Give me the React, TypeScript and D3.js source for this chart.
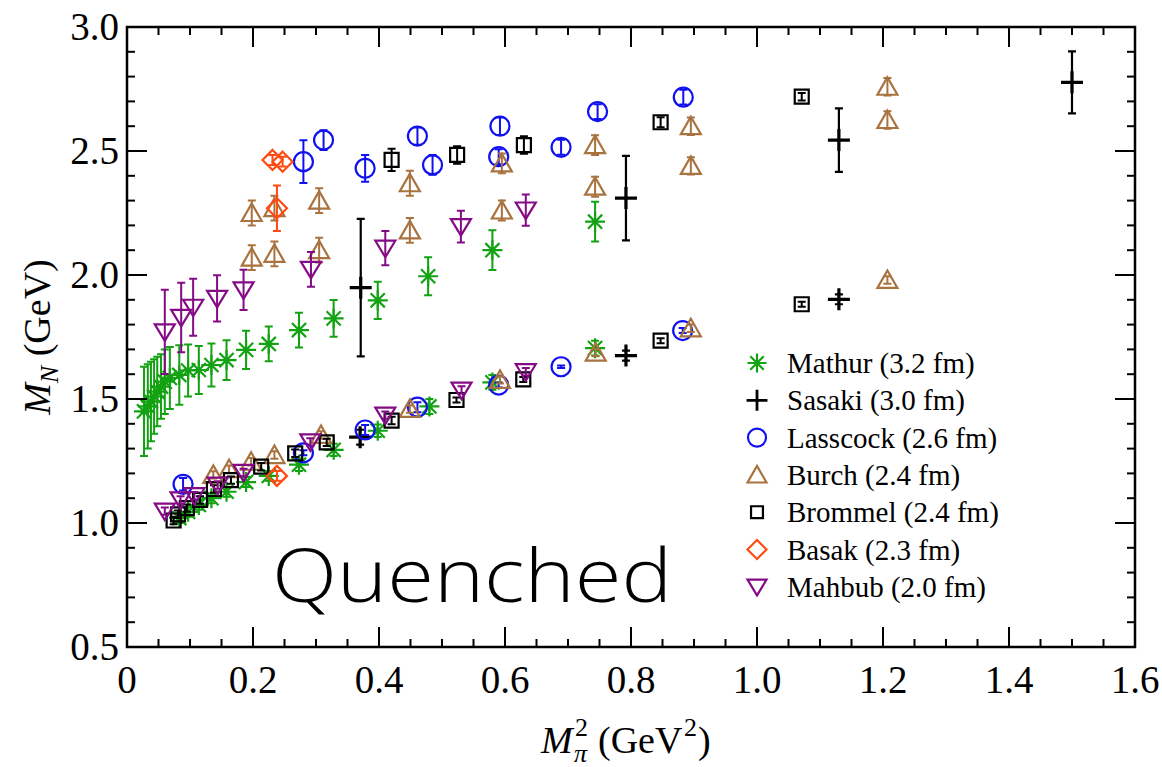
import React from "react";
import * as d3 from "d3";

// Each point: [M_pi^2 (GeV^2), M_N (GeV), error (GeV)]
const mathurExcited: [number, number, number][] = [
  [0.027, 1.45, 0.18], [0.033, 1.47, 0.17], [0.038, 1.49, 0.16], [0.043, 1.51, 0.15],
  [0.048, 1.53, 0.14], [0.054, 1.55, 0.13], [0.060, 1.57, 0.13], [0.068, 1.585, 0.125],
  [0.083, 1.597, 0.12], [0.097, 1.615, 0.105], [0.114, 1.617, 0.097], [0.134, 1.637, 0.087],
  [0.158, 1.657, 0.08], [0.189, 1.698, 0.077], [0.225, 1.722, 0.07], [0.273, 1.778, 0.07],
  [0.328, 1.825, 0.074], [0.398, 1.898, 0.075], [0.478, 1.995, 0.077], [0.58, 2.10, 0.08],
  [0.743, 2.215, 0.08],
];
const mathurNucleon: [number, number, number][] = [
  [0.083, 1.02, 0.02], [0.097, 1.045, 0.02], [0.114, 1.073, 0.02], [0.134, 1.10, 0.02],
  [0.158, 1.126, 0.02], [0.189, 1.165, 0.02], [0.225, 1.19, 0.02], [0.273, 1.235, 0.025],
  [0.328, 1.295, 0.025], [0.398, 1.372, 0.025], [0.48, 1.47, 0.03], [0.58, 1.567, 0.03],
  [0.743, 1.705, 0.03],
];
const sasakiExcited: [number, number, number][] = [
  [0.371, 1.949, 0.277], [0.792, 2.31, 0.17], [1.13, 2.544, 0.128], [1.5, 2.777, 0.125],
];
const sasakiNucleon: [number, number, number][] = [
  [0.37, 1.346, 0.03], [0.792, 1.675, 0.02], [1.13, 1.902, 0.02],
];
const lasscockExcited: [number, number, number][] = [
  [0.28, 2.457, 0.086], [0.312, 2.544, 0.04], [0.378, 2.43, 0.054], [0.461, 2.56, 0.035],
  [0.485, 2.444, 0.04], [0.592, 2.60, 0.035], [0.590, 2.477, 0.03], [0.689, 2.515, 0.03],
  [0.747, 2.659, 0.03], [0.883, 2.717, 0.03],
];
const lasscockNucleon: [number, number, number][] = [
  [0.089, 1.156, 0.025], [0.28, 1.283, 0.01], [0.378, 1.375, 0.02], [0.461, 1.467, 0.02],
  [0.59, 1.556, 0.01], [0.689, 1.63, 0.005], [0.882, 1.776, 0.01],
];
const burchExcited: [number, number, number][] = [
  [0.198, 2.07, 0.05], [0.198, 2.25, 0.05], [0.234, 2.085, 0.05], [0.234, 2.27, 0.05],
  [0.305, 2.10, 0.05], [0.305, 2.30, 0.05], [0.449, 2.18, 0.05], [0.449, 2.37, 0.05],
  [0.595, 2.26, 0.04], [0.595, 2.45, 0.04], [0.743, 2.356, 0.04], [0.743, 2.524, 0.04],
  [0.895, 2.44, 0.035], [0.895, 2.60, 0.035], [1.207, 2.625, 0.035], [1.207, 2.759, 0.035],
];
const burchNucleon: [number, number, number][] = [
  [0.137, 1.194, 0.015], [0.162, 1.217, 0.015], [0.197, 1.247, 0.015], [0.234, 1.274, 0.015],
  [0.308, 1.355, 0.015], [0.449, 1.46, 0.015], [0.592, 1.577, 0.015], [0.744, 1.687, 0.015],
  [0.895, 1.785, 0.015], [1.207, 1.98, 0.015],
];
const brommelExcited: [number, number, number][] = [
  [0.42, 2.464, 0.045], [0.524, 2.484, 0.035], [0.630, 2.524, 0.035], [0.847, 2.616, 0.02],
  [1.071, 2.719, 0.015],
];
const brommelNucleon: [number, number, number][] = [
  [0.074, 1.01, 0.015], [0.081, 1.035, 0.015], [0.095, 1.06, 0.015], [0.116, 1.093, 0.015],
  [0.138, 1.137, 0.015], [0.165, 1.173, 0.015], [0.213, 1.227, 0.015], [0.267, 1.281, 0.015],
  [0.317, 1.325, 0.015], [0.42, 1.413, 0.015], [0.523, 1.496, 0.01], [0.629, 1.579, 0.01],
  [0.847, 1.735, 0.01], [1.071, 1.882, 0.01],
];
const basakExcited: [number, number, number][] = [
  [0.231, 2.464, 0.02], [0.247, 2.457, 0.02], [0.238, 2.269, 0.092],
];
const basakNucleon: [number, number, number][] = [[0.238, 1.19, 0.02]];
const mahbubExcited: [number, number, number][] = [
  [0.060, 1.771, 0.17], [0.086, 1.829, 0.14], [0.105, 1.87, 0.115], [0.143, 1.906, 0.093],
  [0.185, 1.94, 0.081], [0.292, 2.023, 0.07], [0.41, 2.108, 0.069], [0.53, 2.195, 0.064],
  [0.633, 2.262, 0.063],
];
const mahbubNucleon: [number, number, number][] = [
  [0.060, 1.048, 0.015], [0.085, 1.093, 0.015], [0.107, 1.11, 0.015], [0.144, 1.153, 0.015],
  [0.185, 1.204, 0.015], [0.291, 1.327, 0.015], [0.41, 1.435, 0.015], [0.531, 1.536, 0.015],
  [0.633, 1.61, 0.015],
];

const legendLabels = [
  "Mathur (3.2 fm)", "Sasaki (3.0 fm)", "Lasscock (2.6 fm)", "Burch (2.4 fm)",
  "Brommel (2.4 fm)", "Basak (2.3 fm)", "Mahbub (2.0 fm)",
];
const xTickLabels = ["0", "0.2", "0.4", "0.6", "0.8", "1.0", "1.2", "1.4", "1.6"];
const yTickLabels = ["0.5", "1.0", "1.5", "2.0", "2.5", "3.0"];

type Shape = "asterisk" | "plus" | "circle" | "triUp" | "square" | "diamond" | "triDown";

const groups: { shape: Shape; color: string; sets: [number, number, number][][] }[] = [
  { shape: "asterisk", color: "#12a212", sets: [mathurExcited, mathurNucleon] },
  { shape: "plus", color: "#000000", sets: [sasakiExcited, sasakiNucleon] },
  { shape: "circle", color: "#1010f0", sets: [lasscockExcited, lasscockNucleon] },
  { shape: "triUp", color: "#a8733f", sets: [burchExcited, burchNucleon] },
  { shape: "square", color: "#000000", sets: [brommelExcited, brommelNucleon] },
  { shape: "diamond", color: "#ff4a10", sets: [basakExcited, basakNucleon] },
  { shape: "triDown", color: "#850a85", sets: [mahbubExcited, mahbubNucleon] },
];

const W = 1162;
const H = 767;
const left = 127, right = 1135, top = 27, bottom = 647;
const x = d3.scaleLinear().domain([0, 1.6]).range([left, right]);
const y = d3.scaleLinear().domain([0.5, 3.0]).range([bottom, top]);

const serif = "'Liberation Serif', 'Times New Roman', serif";

function markerPath(shape: Shape, cx: number, cy: number, s = 1): string {
  const p = d3.path();
  if (shape === "asterisk") {
    const r = 10 * s, d = r * Math.SQRT1_2;
    p.moveTo(cx - r, cy); p.lineTo(cx + r, cy);
    p.moveTo(cx, cy - r); p.lineTo(cx, cy + r);
    p.moveTo(cx - d, cy - d); p.lineTo(cx + d, cy + d);
    p.moveTo(cx - d, cy + d); p.lineTo(cx + d, cy - d);
  } else if (shape === "plus") {
    const r = 11 * s;
    p.moveTo(cx - r, cy); p.lineTo(cx + r, cy);
    p.moveTo(cx, cy - r); p.lineTo(cx, cy + r);
  } else if (shape === "circle") {
    const r = 9.5 * s;
    p.moveTo(cx + r, cy); p.arc(cx, cy, r, 0, Math.PI * 2);
  } else if (shape === "triUp") {
    p.moveTo(cx, cy - 9.5 * s); p.lineTo(cx + 10 * s, cy + 8 * s); p.lineTo(cx - 10 * s, cy + 8 * s); p.closePath();
  } else if (shape === "triDown") {
    p.moveTo(cx - 10 * s, cy - 7.5 * s); p.lineTo(cx + 10 * s, cy - 7.5 * s); p.lineTo(cx, cy + 9 * s); p.closePath();
  } else if (shape === "square") {
    const h = 7 * s;
    p.rect(cx - h, cy - h, 2 * h, 2 * h);
  } else if (shape === "diamond") {
    const h = 10 * s;
    p.moveTo(cx, cy - h); p.lineTo(cx + h, cy); p.lineTo(cx, cy + h); p.lineTo(cx - h, cy); p.closePath();
  }
  return p.toString();
}

function errorPath(cx: number, yv: number, e: number): string {
  const p = d3.path();
  const y1 = y(yv + e), y2 = y(yv - e);
  const c = 4;
  p.moveTo(cx, y1); p.lineTo(cx, y2);
  p.moveTo(cx - c, y1); p.lineTo(cx + c, y1);
  p.moveTo(cx - c, y2); p.lineTo(cx + c, y2);
  return p.toString();
}

export default function App() {
  const xMajor = d3.range(0, 1.6001, 0.2);
  const xMinor = d3.range(0, 1.6001, 0.05);
  const yMajor = d3.range(0.5, 3.0001, 0.5);
  const yMinor = d3.range(0.5, 3.0001, 0.1);

  const ticks: React.ReactNode[] = [];
  xMinor.forEach((v, i) => {
    const px = x(v);
    ticks.push(<line key={`xb${i}`} x1={px} x2={px} y1={bottom} y2={bottom - 8} />);
    ticks.push(<line key={`xt${i}`} x1={px} x2={px} y1={top} y2={top + 8} />);
  });
  xMajor.forEach((v, i) => {
    const px = x(v);
    ticks.push(<line key={`xB${i}`} x1={px} x2={px} y1={bottom} y2={bottom - 20} />);
    ticks.push(<line key={`xT${i}`} x1={px} x2={px} y1={top} y2={top + 20} />);
  });
  yMinor.forEach((v, i) => {
    const py = y(v);
    ticks.push(<line key={`yl${i}`} x1={left} x2={left + 8} y1={py} y2={py} />);
    ticks.push(<line key={`yr${i}`} x1={right} x2={right - 8} y1={py} y2={py} />);
  });
  yMajor.forEach((v, i) => {
    const py = y(v);
    ticks.push(<line key={`yL${i}`} x1={left} x2={left + 20} y1={py} y2={py} />);
    ticks.push(<line key={`yR${i}`} x1={right} x2={right - 20} y1={py} y2={py} />);
  });

  const marks: React.ReactNode[] = [];
  groups.forEach((g, gi) => {
    g.sets.forEach((set, si) => {
      set.forEach(([xv, yv, e], pi) => {
        const cx = x(xv), cy = y(yv);
        const k = `${gi}-${si}-${pi}`;
        marks.push(
          <g key={k} stroke={g.color} fill="none">
            <path d={errorPath(cx, yv, e)} strokeWidth={g.shape === "plus" ? 2.2 : 2} />
            <path d={markerPath(g.shape, cx, cy)} strokeWidth={g.shape === "plus" ? 3.2 : 2.2} />
          </g>
        );
      });
    });
  });

  const legendX = 757, legendTextX = 787, legendY0 = 363, legendDy = 37.3;

  return (
    <svg width={W} height={H} style={{ position: "absolute", left: 0, top: 0, background: "#fff" }}>
      <rect x={0} y={0} width={W} height={H} fill="#fff" />
      <g>{marks}</g>
      <g stroke="#000" strokeWidth={2}>{ticks}</g>
      <rect x={left} y={top} width={right - left} height={bottom - top} fill="none" stroke="#000" strokeWidth={2.5} />

      <g fontFamily={serif} fontSize={39} fill="#000">
        {xMajor.map((v, i) => (
          <text key={`xl${i}`} x={x(v)} y={693} textAnchor="middle">{xTickLabels[i]}</text>
        ))}
        {yMajor.map((v, i) => (
          <text key={`yl${i}`} x={119} y={y(v) + 13} textAnchor="end">{yTickLabels[i]}</text>
        ))}
      </g>

      {/* y-axis title */}
      <text transform="translate(50,337) rotate(-90)" fontFamily={serif} fontSize={38} textAnchor="middle">
        <tspan fontStyle="italic">M</tspan>
        <tspan fontStyle="italic" fontSize={26} dy={8}>N</tspan>
        <tspan dy={-8}> (GeV)</tspan>
      </text>

      {/* x-axis title */}
      <g fontFamily={serif} fill="#000">
        <text x={541} y={753} fontSize={38} fontStyle="italic">M</text>
        <text x={575} y={736} fontSize={26}>2</text>
        <text x={574} y={762} fontSize={26} fontStyle="italic">π</text>
        <text x={598} y={753} fontSize={38}>(GeV</text>
        <text x={684} y={736} fontSize={26}>2</text>
        <text x={698} y={753} fontSize={38}>)</text>
      </g>

      <text x={272} y={602} fontFamily="'Open Sans', 'Liberation Sans', sans-serif" fontWeight={300}
        fontSize={74} textLength={400} lengthAdjust="spacingAndGlyphs" fill="#000">Quenched</text>

      <g>
        {groups.map((g, i) => {
          const cy = legendY0 + i * legendDy;
          return (
            <g key={`lg${i}`}>
              <path d={markerPath(g.shape, legendX, cy, g.shape === "square" ? 0.85 : 0.95)} stroke={g.color} fill="none"
                strokeWidth={g.shape === "plus" ? 2.8 : 2.2} />
              <text x={legendTextX} y={cy + 10} fontFamily={serif} fontSize={29} fill="#000">{legendLabels[i]}</text>
            </g>
          );
        })}
      </g>
    </svg>
  );
}
